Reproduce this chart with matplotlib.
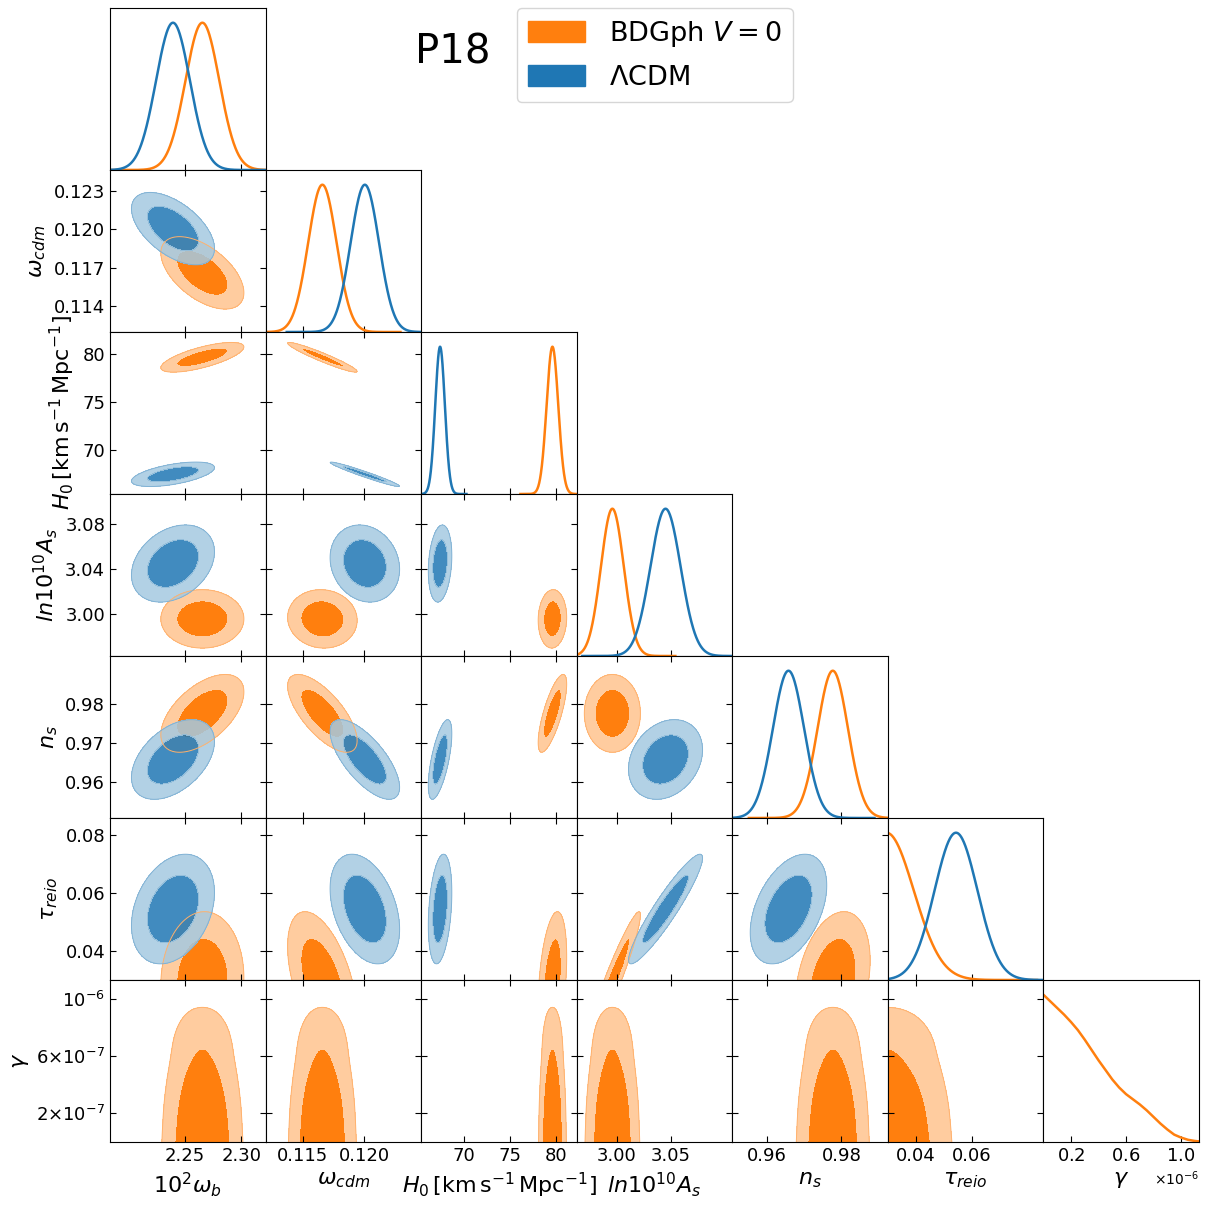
import numpy as np
import matplotlib
matplotlib.use("Agg")
import matplotlib.pyplot as plt
from matplotlib.patches import Patch
from matplotlib.ticker import ScalarFormatter

# ---------------- parameters / axes ----------------
labels = [r"$10^2\omega_b$", r"$\omega_{cdm}$", r"$H_0\,[\mathrm{km\,s^{-1}\,Mpc^{-1}}]$",
          r"$ln10^{10}A_s$", r"$n_s$", r"$\tau_{reio}$", r"$\gamma$"]
limits = [(2.1838, 2.3214), (0.1120, 0.1246), (65.4, 82.25), (2.963, 3.107),
          (0.9507, 0.9925), (0.0300, 0.0857), (0.0, 1.13e-6)]

xticks = [[2.25, 2.30], [0.115, 0.120], [70, 75, 80], [3.00, 3.05],
          [0.96, 0.98], [0.04, 0.06], [0.2e-6, 0.6e-6, 1.0e-6]]
xticklabels = [["2.25", "2.30"], ["0.115", "0.120"], ["70", "75", "80"], ["3.00", "3.05"],
               ["0.96", "0.98"], ["0.04", "0.06"], None]
yticks = [None, [0.114, 0.117, 0.120, 0.123], [70, 75, 80], [3.00, 3.04, 3.08],
          [0.96, 0.97, 0.98], [0.04, 0.06, 0.08], [2e-7, 6e-7, 1e-6]]
yticklabels = [None, ["0.114", "0.117", "0.120", "0.123"], ["70", "75", "80"],
               ["3.00", "3.04", "3.08"], ["0.96", "0.97", "0.98"], ["0.04", "0.06", "0.08"],
               [r"$2{\times}10^{-7}$", r"$6{\times}10^{-7}$", r"$10^{-6}$"]]

# ---------------- BDGph V=0 (orange) ----------------
bdg_mean = [2.2655, 0.1166, 79.62, 2.996, 0.9777, 0.0295]
bdg_sigma = [0.0150, 0.00115, 0.63, 0.0106, 0.0041, 0.0098]
bdg_corr = [
    [1.00, -0.55, 0.70, 0.00, 0.55, 0.05],
    [-0.55, 1.00, -0.95, -0.05, -0.70, -0.50],
    [0.70, -0.95, 1.00, 0.05, 0.75, 0.35],
    [0.00, -0.05, 0.05, 1.00, 0.00, 0.95],
    [0.55, -0.70, 0.75, 0.00, 1.00, 0.30],
    [0.05, -0.50, 0.35, 0.95, 0.30, 1.00],
]
# marginal of gamma (x 1e-6)
gamma_x = [0.00, 0.05, 0.10, 0.15, 0.20, 0.25, 0.30, 0.35, 0.40, 0.45, 0.50, 0.55,
           0.60, 0.65, 0.70, 0.75, 0.80, 0.85, 0.90, 0.95, 1.00, 1.05, 1.10, 1.13]
gamma_pdf = [1.00, 0.955, 0.91, 0.865, 0.815, 0.76, 0.695, 0.625, 0.555, 0.49, 0.425, 0.37,
             0.325, 0.29, 0.255, 0.215, 0.17, 0.125, 0.085, 0.05, 0.03, 0.015, 0.007, 0.004]

# ---------------- LCDM (blue) ----------------
lcdm_mean = [2.2395, 0.12004, 67.45, 3.0452, 0.9658, 0.0544]
lcdm_sigma = [0.0150, 0.00115, 0.52, 0.0140, 0.0042, 0.0077]
lcdm_corr = [
    [1.00, -0.55, 0.55, 0.30, 0.45, 0.30],
    [-0.55, 1.00, -0.97, -0.15, -0.70, -0.37],
    [0.55, -0.97, 1.00, 0.20, 0.65, 0.30],
    [0.30, -0.15, 0.20, 1.00, 0.24, 0.93],
    [0.45, -0.70, 0.65, 0.24, 1.00, 0.43],
    [0.30, -0.37, 0.30, 0.93, 0.43, 1.00],
]

C_ORANGE = "#ff7f0e"
C_BLUE = "#1f77b4"
CHI68 = -2 * np.log(1 - 0.68)
CHI95 = -2 * np.log(1 - 0.95)

plt.rcParams["font.size"] = 13


def pale(c, f=0.6):
    rgb = np.array(matplotlib.colors.to_rgb(c))
    return tuple(rgb * (1 - f) + f)


def gauss2d(ax, mean, sigma, corr, i, j, color, alpha):
    x = np.linspace(*limits[j], 300)
    y = np.linspace(*limits[i], 300)
    X, Y = np.meshgrid(x, y)
    dx = (X - mean[j]) / sigma[j]
    dy = (Y - mean[i]) / sigma[i]
    r = corr[i][j]
    chi2 = (dx ** 2 - 2 * r * dx * dy + dy ** 2) / (1 - r ** 2)
    ax.contourf(X, Y, chi2, levels=[-1, CHI68, CHI95], colors=[color, pale(color)], alpha=alpha)
    ax.contour(X, Y, chi2, levels=[CHI95], colors=[pale(color, 0.4)], linewidths=0.7, alpha=alpha)


def gamma2d(ax, mean, sigma, j, color):
    # product of the gamma marginal and a gaussian in the other parameter
    gx = np.array(gamma_x) * 1e-6
    gp = np.array(gamma_pdf)
    xw = np.linspace(mean[j] - 6 * sigma[j], mean[j] + 6 * sigma[j], 400)
    yw = np.linspace(0, gx[-1], 400)
    XW, YW = np.meshgrid(xw, yw)
    dens = np.interp(YW, gx, gp) * np.exp(-0.5 * ((XW - mean[j]) / sigma[j]) ** 2)
    s = np.sort(dens.ravel())[::-1]
    cs = np.cumsum(s) / s.sum()
    l68 = s[np.searchsorted(cs, 0.68)]
    l95 = s[np.searchsorted(cs, 0.95)]
    x = np.linspace(*limits[j], 300)
    y = np.linspace(*limits[6], 300)
    X, Y = np.meshgrid(x, y)
    d = np.interp(Y, gx, gp, right=0) * np.exp(-0.5 * ((X - mean[j]) / sigma[j]) ** 2)
    ax.contourf(X, Y, d, levels=[l95, l68, 10], colors=[pale(color), color])
    ax.contour(X, Y, d, levels=[l95], colors=[pale(color, 0.4)], linewidths=0.7)


def gauss1d(ax, m, s, j, color):
    lo = max(limits[j][0], m - 5.5 * s)
    hi = min(limits[j][1], m + 5.5 * s)
    x = np.linspace(lo, hi, 400)
    ax.plot(x, np.exp(-0.5 * ((x - m) / s) ** 2), color=color, lw=1.8)


fig = plt.figure(figsize=(12.07, 12.07), dpi=100)
n = 7
left, right = 110 / 1207, 1199 / 1207
top, bottom = 1 - 8 / 1207, 1 - 1142 / 1207
w = (right - left) / n
h = (top - bottom) / n

for i in range(n):
    for j in range(i + 1):
        ax = fig.add_axes([left + j * w, top - (i + 1) * h, w, h])
        ax.set_xlim(limits[j])
        ax.set_xticks(xticks[j])
        if i == j:
            if j < 6:
                gauss1d(ax, bdg_mean[j], bdg_sigma[j], j, C_ORANGE)
                gauss1d(ax, lcdm_mean[j], lcdm_sigma[j], j, C_BLUE)
            else:
                ax.plot(np.array(gamma_x) * 1e-6, gamma_pdf, color=C_ORANGE, lw=1.8)
            ax.set_ylim(0, 1.1)
            ax.set_yticks([])
            ax.tick_params(direction="in", length=4)
        else:
            ax.set_ylim(limits[i])
            if i < 6:
                gauss2d(ax, bdg_mean, bdg_sigma, bdg_corr, i, j, C_ORANGE, 1.0)
                gauss2d(ax, lcdm_mean, lcdm_sigma, lcdm_corr, i, j, C_BLUE, 0.85)
            else:
                gamma2d(ax, bdg_mean, bdg_sigma, j, C_ORANGE)
            ax.set_yticks(yticks[i])
            ax.tick_params(direction="in", top=True, right=True, length=4)
            if j == 0:
                ax.set_yticklabels(yticklabels[i])
                ax.set_ylabel(labels[i], fontsize=16)
            else:
                ax.tick_params(labelleft=False)
        if i == n - 1:
            if xticklabels[j] is not None:
                ax.set_xticklabels(xticklabels[j])
            else:
                fmt = ScalarFormatter(useMathText=True)
                ax.xaxis.set_major_formatter(fmt)
                ax.xaxis.get_offset_text().set_fontsize(10)
            ax.set_xlabel(labels[j], fontsize=16)
        else:
            ax.tick_params(labelbottom=False)

fig.text(453 / 1207, 1 - 52 / 1207, "P18", fontsize=29, ha="center", va="center")
handles = [Patch(color=C_ORANGE), Patch(color=C_BLUE)]
fig.legend(handles, [r"BDGph $V=0$", r"$\Lambda$CDM"], loc="upper left",
           bbox_to_anchor=(517 / 1207, 1 - 8 / 1207), fontsize=19.5, handlelength=2.1,
           handleheight=0.8, handletextpad=0.9, labelspacing=0.6, borderaxespad=0)

fig.savefig("out.png", dpi=100)
